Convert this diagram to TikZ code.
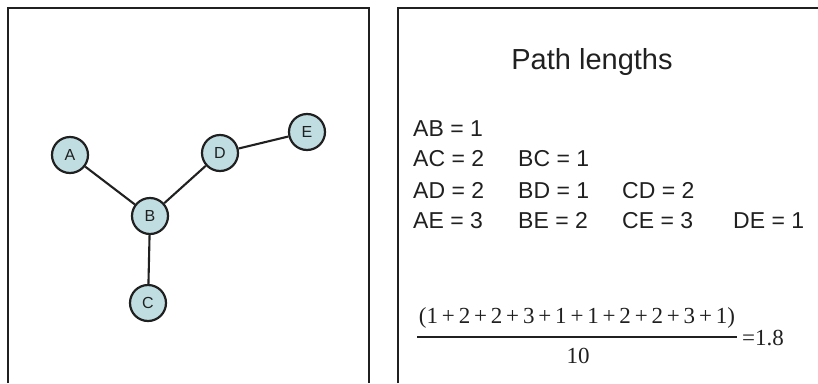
\documentclass[tikz,border=0pt]{standalone}
\usepackage{xcolor}
\usepackage{fontspec}
\setmainfont{Liberation Sans}
\newfontfamily\timesfont{Liberation Serif}
\usepackage{tikz}
\usetikzlibrary{positioning}

\definecolor{nodefill}{RGB}{192,222,226}
\definecolor{inkgray}{RGB}{32,32,32}

\begin{document}
\begin{tikzpicture}[x=1pt, y=-1pt, node distance=31pt, auto]
\tikzstyle{frame} = [draw=inkgray, line width=2.8pt]
\tikzstyle{vertex} = [circle, draw=inkgray, line width=2.2pt, fill=nodefill, minimum size=36pt, inner sep=0pt, text=inkgray, font=\fontsize{16}{16}\selectfont]
\tikzstyle{link} = [draw=inkgray, line width=2.1pt]
\tikzstyle{dist} = [anchor=base west, inner sep=0pt, text=inkgray, font=\fontsize{23}{23}\selectfont]
\tikzstyle{calc} = [inner sep=0pt, text=inkgray, font=\timesfont\fontsize{23}{23}\selectfont]
\useasboundingbox (0,0) rectangle (818,383);
% panels
\path [frame] (8,383) -- (8,8) -- (369,8) -- (369,383);
\path [frame] (398,383) -- (398,8) -- (818,8);
% graph
\node [vertex] (a) at (70,155) {A};
\node [vertex] (b) at (150,216) {B};
\node [vertex] (c) at (148,303) {C};
\node [vertex] (d) at (220,153) {D};
\node [vertex] (e) at (307,132) {E};
\path [link] (a) -- (b);
\path [link] (b) -- (c);
\path [link] (b) -- (d);
\path [link] (d) -- (e);
% path lengths
\node [anchor=base, inner sep=0pt, text=inkgray, font=\fontsize{29}{29}\selectfont] (title) at (592,69) {Path lengths};
\node [dist] (ab) at (413,136) {AB = 1};
\node [dist] (ac) at (413,166) {AC = 2};
\node [dist] (ad) at (413,198) {AD = 2};
\node [dist] (ae) at (413,228) {AE = 3};
\node [dist] (bc) at (518,166) {BC = 1};
\node [dist] (bd) at (518,198) {BD = 1};
\node [dist] (be) at (518,228) {BE = 2};
\node [dist] (cd) at (622,198) {CD = 2};
\node [dist] (ce) at (622,228) {CE = 3};
\node [dist] (de) at (733,228) {DE = 1};
% average
\node [calc] (num) at (577,318) {(1\,+\,2\,+\,2\,+\,3\,+\,1\,+\,1\,+\,2\,+\,2\,+\,3\,+\,1)};
\node [calc] (den) at (578,356) {10};
\coordinate (barl) at (417,337);
\coordinate (barr) at (737,337);
\path [draw=inkgray, line width=1.5pt] (barl) -- (barr);
\node [calc, anchor=west] (avg) at (742,338) {=1.8};
\end{tikzpicture}
\end{document}
